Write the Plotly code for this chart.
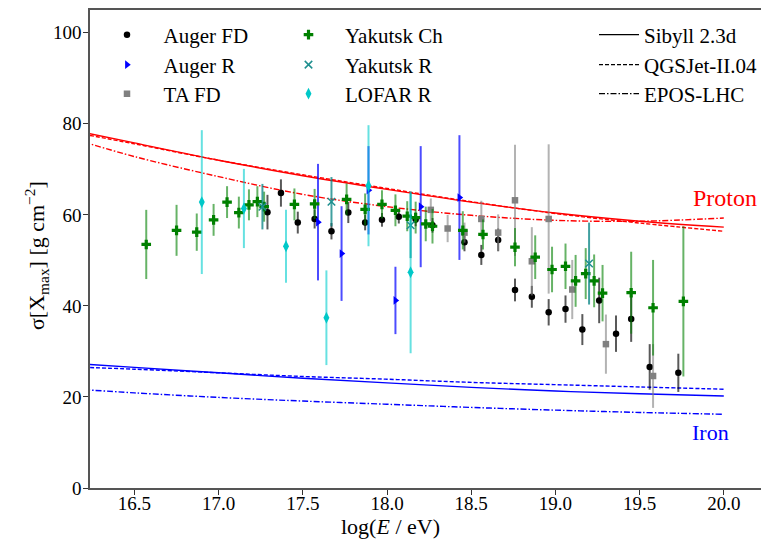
import plotly.graph_objects as go

# ---------------- data ----------------
auger_fd_E = [17.29, 17.37, 17.47, 17.57, 17.67, 17.77, 17.87, 17.97, 18.07, 18.17, 18.27,
              18.46, 18.56, 18.66, 18.76, 18.86, 18.96, 19.06, 19.16, 19.26, 19.36, 19.45, 19.56, 19.73]
auger_fd_s = [60.6, 64.8, 58.3, 59.1, 56.4, 60.5, 58.3, 58.9, 59.6, 59.0, 57.7,
              54.0, 51.2, 54.5, 43.5, 42.0, 38.6, 39.3, 34.8, 41.2, 33.9, 37.1, 26.6, 25.3]
auger_fd_e = [3.8, 3.0, 2.4, 2.1, 1.8, 2.3, 1.7, 1.5, 1.5, 1.5, 1.6,
              2.0, 2.2, 2.5, 2.5, 2.4, 2.9, 3.0, 3.4, 5.0, 4.0, 5.0, 5.0, 4.2]

auger_r_E = [17.59, 17.73, 17.89, 18.05, 18.20, 18.43]
auger_r_s = [58.4, 51.5, 65.4, 41.2, 61.8, 63.8]
auger_r_e = [12.8, 10.4, 9.7, 7.4, 13.3, 13.7]

ta_fd_E = [18.26, 18.36, 18.46, 18.56, 18.66, 18.76, 18.86, 18.96, 19.10, 19.30, 19.58]
ta_fd_s = [61.1, 57.0, 56.1, 59.1, 56.1, 63.2, 49.8, 59.1, 43.6, 31.6, 24.6]
ta_fd_e = [2.5, 3.0, 2.2, 4.0, 4.0, 12.2, 7.5, 16.4, 6.5, 6.5, 7.0]

yak_ch_E = [16.57, 16.75, 16.87, 16.97, 17.05, 17.12, 17.18, 17.23, 17.27, 17.45, 17.57,
            17.76, 17.87, 17.97, 18.05, 18.12, 18.17, 18.23, 18.27, 18.45, 18.57, 18.76,
            18.88, 18.98, 19.06, 19.12, 19.18, 19.23, 19.28, 19.45, 19.58, 19.76]
yak_ch_s = [53.5, 56.6, 56.2, 58.9, 62.8, 60.5, 62.2, 62.9, 61.8, 62.3, 62.4,
            63.4, 61.2, 62.3, 61.0, 59.7, 59.4, 58.0, 57.5, 56.6, 55.7, 52.9,
            50.7, 48.0, 48.7, 45.5, 47.1, 45.5, 42.8, 42.9, 39.6, 41.0]
yak_ch_e = [7.6, 5.6, 4.1, 3.5, 3.5, 3.5, 3.4, 3.4, 3.3, 3.5, 3.3,
            3.5, 3.5, 3.1, 3.5, 3.3, 3.5, 3.8, 3.8, 4.2, 3.3, 4.2,
            4.8, 5.0, 5.0, 5.7, 5.6, 5.8, 6.2, 9.0, 10.5, 16.5]

yak_r_E = [17.26, 17.67, 18.14, 19.20]
yak_r_s = [61.8, 62.9, 57.7, 49.3]
yak_r_e = [5.0, 5.4, 7.2, 9.0]

lofar_E = [16.90, 17.15, 17.40, 17.64, 17.89, 18.14]
lofar_s = [62.8, 61.4, 53.1, 37.4, 66.4, 47.4]
lofar_e = [15.8, 8.7, 8.0, 10.4, 13.3, 17.8]

# model predictions
model_E = [16.2, 16.5, 17.0, 17.5, 18.0, 18.5, 19.0, 19.5, 20.0]
p_sibyll = [78.1, 75.8, 72.0, 68.6, 65.6, 62.8, 60.4, 58.6, 57.3]
p_qgsjet = [77.7, 75.6, 72.0, 68.8, 65.8, 62.9, 60.3, 58.2, 56.4]
p_epos = [76.0, 72.8, 68.4, 64.5, 61.8, 59.9, 58.8, 58.6, 59.3]
fe_sibyll = [27.2, 26.5, 25.3, 24.1, 23.1, 22.1, 21.3, 20.7, 20.2]
fe_qgsjet = [26.5, 26.1, 25.3, 24.5, 23.9, 23.2, 22.7, 22.2, 21.7]
fe_epos = [21.6, 20.9, 19.9, 19.1, 18.4, 17.7, 17.1, 16.6, 16.2]

x_ticks = [16.5, 17.0, 17.5, 18.0, 18.5, 19.0, 19.5, 20.0]
x_ticklabels = ["16.5", "17.0", "17.5", "18.0", "18.5", "19.0", "19.5", "20.0"]
y_ticks = [0, 20, 40, 60, 80, 100]

FONT = "Liberation Serif"

fig = go.Figure()

# ---------------- model lines ----------------
dash_q = "4px,2px"
dash_e = "6px,2px,1.5px,2px"
for ys, col, dash in [(p_sibyll, "#ff0000", "solid"), (p_qgsjet, "#ff0000", dash_q),
                      (p_epos, "#ff0000", dash_e), (fe_sibyll, "#0000ff", "solid"),
                      (fe_qgsjet, "#0000ff", dash_q), (fe_epos, "#0000ff", dash_e)]:
    fig.add_trace(go.Scatter(x=model_E, y=ys, mode="lines", line_shape="spline",
                             line=dict(color=col, width=1.4, dash=dash),
                             showlegend=False, hoverinfo="skip"))

# ---------------- data points ----------------
def add_data(E, s, e, name, mcol, ecol, symbol, size, legend, mline=None):
    marker = dict(color=mcol, symbol=symbol, size=size)
    if mline:
        marker["line"] = mline
    fig.add_trace(go.Scatter(
        x=E, y=s, mode="markers", name=name, legend=legend,
        marker=marker,
        error_y=dict(type="data", array=e, visible=True, color=ecol, thickness=2, width=0)))

add_data(auger_fd_E, auger_fd_s, auger_fd_e, "Auger FD", "#000000", "rgba(0,0,0,0.65)",
         "circle", 6.5, "legend")
add_data(auger_r_E, auger_r_s, auger_r_e, "Auger R", "#0000ff", "rgba(0,0,255,0.7)",
         "triangle-right", 7.5, "legend2")
add_data(ta_fd_E, ta_fd_s, ta_fd_e, "TA FD", "#808080", "rgba(128,128,128,0.6)",
         "square", 6.5, "legend3")
add_data(yak_ch_E, yak_ch_s, yak_ch_e, "Yakutsk Ch", "#008000", "rgba(0,128,0,0.6)",
         "cross", 8, "legend4")
add_data(yak_r_E, yak_r_s, yak_r_e, "Yakutsk R", "#1f8f8f", "rgba(0,128,128,0.75)",
         "x-thin", 7.5, "legend5", mline=dict(color="#1f8f8f", width=1.5))
add_data(lofar_E, lofar_s, lofar_e, "LOFAR R", "#00c8c8", "rgba(0,205,205,0.6)",
         "diamond-tall", 8.5, "legend6")

# legend-only lines for the models
for name, dash, lg in [("Sibyll 2.3d", "solid", "legend7"), ("QGSJet-II.04", dash_q, "legend8"),
                       ("EPOS-LHC", dash_e, "legend9")]:
    fig.add_trace(go.Scatter(x=[None], y=[None], mode="lines", name=name, legend=lg,
                             line=dict(color="#000000", width=1.2, dash=dash)))

W, H = 761, 543
ML, MT, PW, PH = 90, 10, 671, 478

def px2paper(px, py):
    return (px - ML) / PW, 1 - (py - MT) / PH

def leg(px, py, iw):
    x, y = px2paper(px, py)
    return dict(x=x, y=y, xref="paper", yref="paper",
                xanchor="left", yanchor="middle", bgcolor="rgba(0,0,0,0)",
                itemwidth=iw, font=dict(family=FONT, size=21, color="#000000"))

rows = [35, 65, 94]
layout_legends = {}
names = ["legend", "legend2", "legend3", "legend4", "legend5", "legend6",
         "legend7", "legend8", "legend9"]
for i, n in enumerate(names):
    col, row = divmod(i, 3)
    if col == 0:
        layout_legends[n] = leg(90.5, rows[row], 63)
    elif col == 1:
        layout_legends[n] = leg(272, rows[row], 63)
    else:
        layout_legends[n] = leg(594, rows[row], 40)

fig.update_layout(
    width=W, height=H,
    margin=dict(l=ML, r=0, t=MT, b=H - MT - PH, autoexpand=False),
    plot_bgcolor="white", paper_bgcolor="white",
    font=dict(family=FONT, size=19, color="#000000"),
    **layout_legends,
    xaxis=dict(range=[16.236, 20.221], tickvals=x_ticks, ticktext=x_ticklabels,
               ticks="outside", ticklen=5, tickwidth=1.2, tickcolor="#333",
               ticklabelstandoff=-8,
               showline=True, linecolor="#555", linewidth=1.5, mirror=True,
               showgrid=False, zeroline=False),
    yaxis=dict(range=[0, 105], tickvals=y_ticks,
               ticks="outside", ticklen=5, tickwidth=1.2, tickcolor="#333",
               ticklabelstandoff=-2,
               showline=True, linecolor="#555", linewidth=1.5, mirror=False,
               showgrid=False, zeroline=False),
)

# axis titles
tx, ty = px2paper(390, 526)
fig.add_annotation(x=tx, y=ty, xref="paper", yref="paper", text="log(<i>E</i> / eV)",
                   xanchor="center", yanchor="middle",
                   showarrow=False, font=dict(family=FONT, size=22))
tx, ty = px2paper(37, 256)
fig.add_annotation(x=tx, y=ty, xref="paper", yref="paper",
                   text="σ[X<sub>max</sub>] [g cm<sup>−2</sup>]", textangle=-90,
                   xanchor="center", yanchor="middle",
                   showarrow=False, font=dict(family=FONT, size=22))

fig.add_annotation(x=20.005, y=63.6, text="Proton", showarrow=False,
                   xanchor="center", yanchor="middle",
                   font=dict(family=FONT, size=24, color="#ff0000"))
fig.add_annotation(x=19.92, y=12.3, text="Iron", showarrow=False,
                   xanchor="center", yanchor="middle",
                   font=dict(family=FONT, size=22, color="#0000ff"))

fig.write_html("out.html")
